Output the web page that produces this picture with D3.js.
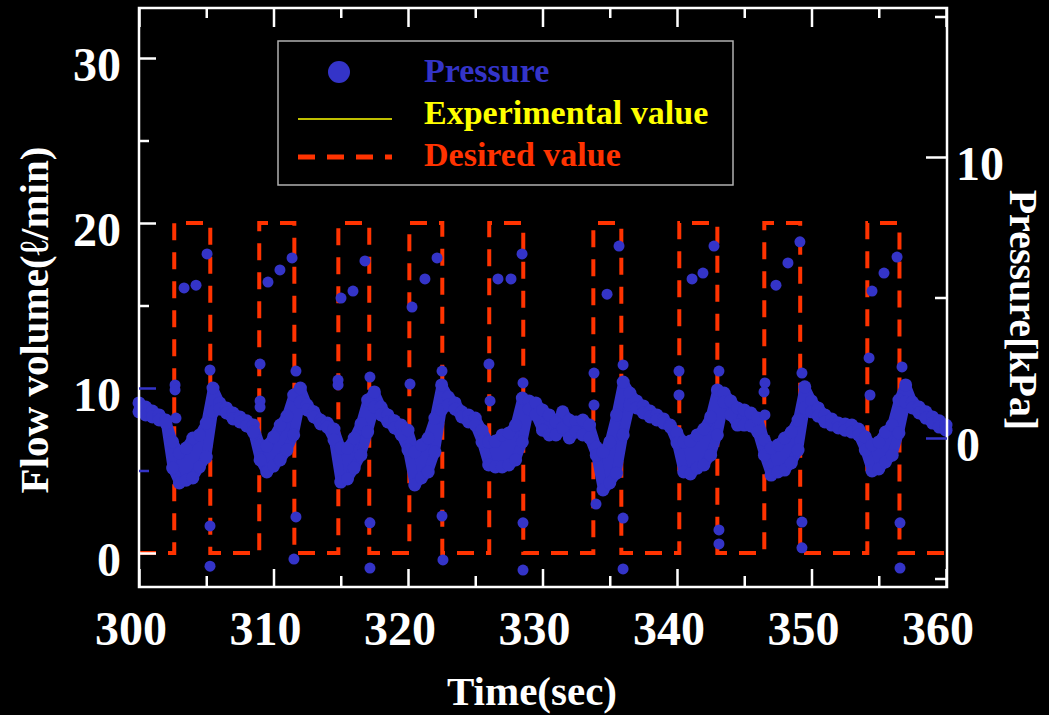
<!DOCTYPE html>
<html>
<head>
<meta charset="utf-8">
<script src="https://cdn.jsdelivr.net/npm/d3@7"></script>
<style>
  body { margin: 0; background: #000; }
  text { font-family: "Liberation Serif", "Times New Roman", serif; font-weight: bold; }
</style>
</head>
<body>
<svg width="1049" height="715"></svg>
<script>
// desired flow (l/min): square wave switching times, sec
var riseTimes = [302.62, 308.94, 314.82, 320.10, 326.04, 333.78, 340.17, 346.49, 354.15];
var fallTimes = [305.30, 311.55, 317.12, 322.55, 328.57, 335.86, 343.00, 349.16, 356.54];
var desiredLow = 0, desiredHigh = 20;

// pressure trace (kPa), read every 0.5 s from 300 s: upper and lower edge of the dense dot band
var bandStart = 300, bandStep = 0.5;
var bandTop = [
  1.25, 1.10, 0.96, 0.82, 0.64, -0.14, -0.53, -0.36, 0.00, 0.11,
  0.53, 1.78, 1.25, 1.07, 0.89, 0.75, 0.61, 0.46, -0.25, -0.28,
  0.04, 0.46, 0.78, 1.53, 1.78, 1.17, 0.93, 0.64, 0.53, 0.32,
  -0.36, -0.36, 0.00, 0.50, 1.35, 1.64, 1.10, 0.82, 0.61, 0.46,
  0.28, -0.50, -0.25, 0.00, 0.71, 1.89, 1.46, 1.25, 0.93, 0.82,
  0.71, 0.28, -0.14, -0.11, 0.11, 0.18, 0.46, 1.42, 1.32, 1.25,
  1.00, 0.82, 0.57, 0.93, 0.64, 0.57, 0.64, 0.46, -0.32, -0.50,
  -0.14, 0.82, 1.99, 1.60, 1.32, 1.14, 0.96, 0.82, 0.68, 0.46,
  0.18, -0.14, -0.11, 0.11, 0.32, 0.75, 1.71, 1.60, 1.32, 1.07,
  1.00, 0.89, 0.71, -0.07, -0.36, -0.25, 0.00, 0.21, 0.64, 1.82,
  1.32, 1.07, 0.82, 0.68, 0.53, 0.50, 0.46, 0.32, 0.04, -0.25,
  -0.14, 0.21, 0.46, 1.35, 1.89, 1.28, 1.10, 0.93, 0.75, 0.61,
  0.46];
var bandBottom = [
  0.93, 0.82, 0.75, 0.64, 0.53, -1.07, -1.60, -1.50, -1.42, -1.03,
  -0.68, 0.93, 1.03, 0.89, 0.68, 0.57, 0.43, 0.21, -0.78, -1.21,
  -1.00, -0.78, -0.43, 0.11, 1.28, 1.00, 0.75, 0.50, 0.39, -0.07,
  -1.57, -1.46, -1.07, -0.61, 0.21, 1.10, 0.82, 0.57, 0.36, 0.11,
  -0.43, -1.67, -1.42, -1.21, -0.50, 1.00, 1.17, 1.03, 0.75, 0.57,
  0.46, -0.14, -0.96, -1.03, -1.03, -0.96, -0.78, -0.14, 1.03, 0.82,
  0.28, 0.11, 0.11, 0.36, 0.00, 0.21, 0.11, 0.00, -0.61, -1.85,
  -1.60, -1.25, 0.11, 1.17, 1.07, 0.89, 0.75, 0.64, 0.53, 0.39,
  -0.18, -1.21, -1.28, -1.07, -0.96, -0.61, 0.11, 1.28, 0.82, 0.46,
  0.46, 0.43, 0.21, -0.61, -1.32, -1.21, -1.14, -0.89, -0.43, 1.07,
  0.93, 0.78, 0.57, 0.46, 0.36, 0.28, 0.21, 0.11, -0.43, -1.17,
  -1.10, -0.85, -0.61, 0.18, 1.28, 1.07, 0.89, 0.71, 0.53, 0.39,
  0.28];

// scattered pressure dots around each pulse
var sparseTime = [
  302.68, 302.68, 302.75, 303.35, 304.24, 305.06, 305.28, 305.28, 305.28,
  309.00, 309.00, 309.00, 309.59, 310.48, 311.38, 311.67, 311.67, 311.52,
  314.80, 314.80, 315.02, 315.91, 316.80, 317.17, 317.17, 317.17,
  320.15, 320.30, 321.26, 322.16, 322.53, 322.53, 322.60,
  326.02, 326.10, 326.69, 327.66, 328.48, 328.55, 328.55, 328.55,
  333.83, 333.83, 333.98, 334.80, 335.69, 335.99, 335.99, 335.99,
  340.15, 340.15, 341.12, 341.93, 342.75, 343.12, 343.12, 343.12,
  346.54, 346.47, 346.54, 347.36, 348.25, 349.14, 349.29, 349.29, 349.29,
  354.28, 354.35, 354.50, 355.39, 356.36, 356.73, 356.58, 356.58];
var sparseKPa = [
  1.89, 1.71, 0.71, 5.34, 5.44, 6.55, 2.42, -3.13, -4.56,
  2.63, 1.32, 1.10, 5.55, 5.98, 6.41, 2.38, -2.81, -4.31,
  2.06, 1.89, 4.98, 5.23, 6.30, 2.17, -3.02, -4.63,
  1.92, 4.66, 5.66, 6.41, 2.38, -2.78, -4.34,
  2.63, 1.32, 5.66, 5.66, 6.55, 1.96, -3.02, -4.70,
  2.31, 1.17, -2.35, 5.12, 6.83, 2.60, -2.85, -4.66,
  2.38, 1.53, 5.66, 5.87, 6.83, 2.38, -3.27, -3.77,
  1.96, 1.64, 0.82, 5.44, 6.23, 6.98, 2.31, -2.99, -3.91,
  2.85, 1.53, 5.23, 5.87, 6.44, 2.53, -3.02, -4.63];

var xMajor = [300, 310, 320, 330, 340, 350, 360];
var xMinor = [305, 315, 325, 335, 345, 355];
var flowMajor = [0, 10, 20, 30];
var flowMinor = [5, 15, 25];
var presMajor = [0, 10];
var presMinor = [-5, 5, 15];

var legendItems = ["Pressure", "Experimental value", "Desired value"];

var blue = "#3434c8", red = "#ff3300", yellow = "#ffff00";
var svg = d3.select("svg");

var plotL = 139, plotR = 947, plotT = 8, plotB = 587;
var x = d3.scaleLinear().domain([300, 360]).range([139, 946]);
var yFlow = d3.scaleLinear().domain([0, 30]).range([553, 58]);
var yPres = d3.scaleLinear().domain([0, 10]).range([438, 157]);

// ---- desired value (dashed square wave)
var desired = [[300, desiredLow]];
riseTimes.forEach(function(t, i) {
  desired.push([t, desiredLow], [t, desiredHigh], [fallTimes[i], desiredHigh], [fallTimes[i], desiredLow]);
});
desired.push([360, desiredLow]);

svg.append("path")
  .datum(desired)
  .attr("d", d3.line().x(function(d) { return x(d[0]); }).y(function(d) { return yFlow(d[1]); }))
  .style("fill", "none")
  .style("stroke", red)
  .style("stroke-width", 4)
  .style("stroke-dasharray", "17,12");

// ---- pressure band
var band = bandTop.map(function(v, i) {
  return { t: bandStart + i * bandStep, hi: v, lo: bandBottom[i] };
});

svg.append("path")
  .datum(band)
  .attr("d", d3.area()
    .x(function(d) { return x(d.t); })
    .y0(function(d) { return yPres(d.lo); })
    .y1(function(d) { return yPres(d.hi); }))
  .style("fill", blue)
  .style("stroke", blue)
  .style("stroke-width", 10)
  .style("stroke-linejoin", "round");

var bandDots = [];
band.forEach(function(d) {
  bandDots.push([d.t, d.hi], [d.t, d.lo]);
});
svg.append("g").selectAll("circle").data(bandDots)
  .enter().append("circle")
  .attr("cx", function(d) { return x(d[0]); })
  .attr("cy", function(d) { return yPres(d[1]); })
  .attr("r", 6.5)
  .style("fill", blue);

svg.append("g").selectAll("circle").data(sparseTime)
  .enter().append("circle")
  .attr("cx", function(d) { return x(d); })
  .attr("cy", function(d, i) { return yPres(sparseKPa[i]); })
  .attr("r", 5.5)
  .style("fill", blue);

// ---- frame
svg.append("rect")
  .attr("x", plotL).attr("y", plotT)
  .attr("width", plotR - plotL).attr("height", plotB - plotT)
  .style("fill", "none").style("stroke", "#fff").style("stroke-width", 2.5);

function ticks(g) {
  g.select(".domain").remove();
  g.selectAll("line").style("stroke", "#fff").style("stroke-width", 2.5);
}

svg.append("g").attr("transform", "translate(0," + plotB + ")")
  .call(d3.axisBottom(x).tickValues(xMajor).tickSize(-18).tickFormat("")).call(ticks);
svg.append("g").attr("transform", "translate(0," + plotB + ")")
  .call(d3.axisBottom(x).tickValues(xMinor).tickSize(-11).tickFormat("")).call(ticks);
svg.append("g").attr("transform", "translate(0," + plotT + ")")
  .call(d3.axisTop(x).tickValues(xMajor).tickSize(-19).tickFormat("")).call(ticks);
svg.append("g").attr("transform", "translate(0," + plotT + ")")
  .call(d3.axisTop(x).tickValues(xMinor).tickSize(-10).tickFormat("")).call(ticks);

var gl = svg.append("g").attr("transform", "translate(" + plotL + ",0)")
  .call(d3.axisLeft(yFlow).tickValues(flowMajor).tickSize(-17).tickFormat("")).call(ticks);
gl.selectAll(".tick").filter(function(d) { return d === 10; }).select("line").style("stroke", blue);
var gl2 = svg.append("g").attr("transform", "translate(" + plotL + ",0)")
  .call(d3.axisLeft(yFlow).tickValues(flowMinor).tickSize(-10).tickFormat("")).call(ticks);
gl2.selectAll(".tick").filter(function(d) { return d === 5; }).select("line").style("stroke", blue);

var gr = svg.append("g").attr("transform", "translate(" + plotR + ",0)")
  .call(d3.axisRight(yPres).tickValues(presMajor).tickSize(-21).tickFormat("")).call(ticks);
gr.selectAll(".tick").filter(function(d) { return d === 0; }).select("line").style("stroke", blue);
svg.append("g").attr("transform", "translate(" + plotR + ",0)")
  .call(d3.axisRight(yPres).tickValues(presMinor).tickSize(-12).tickFormat("")).call(ticks);

// ---- tick labels
svg.append("g").selectAll("text").data(xMajor)
  .enter().append("text")
  .attr("x", function(d) { return x(d) - 8; })
  .attr("y", 645)
  .style("fill", "#fff").style("font-size", "48px").style("text-anchor", "middle")
  .text(function(d) { return d; });

svg.append("g").selectAll("text").data(flowMajor)
  .enter().append("text")
  .attr("x", 121)
  .attr("y", function(d) { return yFlow(d) + 23; })
  .style("fill", "#fff").style("font-size", "48px").style("text-anchor", "end")
  .text(function(d) { return d; });

svg.append("g").selectAll("text").data(presMajor)
  .enter().append("text")
  .attr("x", 956)
  .attr("y", function(d) { return yPres(d) + 23; })
  .style("fill", "#fff").style("font-size", "48px").style("text-anchor", "start")
  .text(function(d) { return d; });

// ---- axis titles
svg.append("text")
  .attr("x", 532).attr("y", 705)
  .style("fill", "#fff").style("font-size", "41px").style("text-anchor", "middle")
  .text("Time(sec)");

svg.append("text")
  .attr("transform", "translate(48,320) rotate(-90)")
  .style("fill", "#fff").style("font-size", "41px").style("text-anchor", "middle")
  .text("Flow volume(\u2113/min)");

svg.append("text")
  .attr("transform", "translate(1010,310) rotate(90)")
  .style("fill", "#fff").style("font-size", "40px").style("text-anchor", "middle")
  .text("Pressure[kPa]");

// ---- legend
var lg = svg.append("g");
lg.append("rect")
  .attr("x", 278).attr("y", 41).attr("width", 455).attr("height", 144)
  .style("fill", "#000").style("stroke", "#b0b0b0").style("stroke-width", 1.5);
lg.append("circle").attr("cx", 339).attr("cy", 72).attr("r", 11).style("fill", blue);
lg.append("line").attr("x1", 298).attr("x2", 392).attr("y1", 119).attr("y2", 119)
  .style("stroke", yellow).style("stroke-width", 1.5);
lg.append("line").attr("x1", 298).attr("x2", 392).attr("y1", 157).attr("y2", 157)
  .style("stroke", red).style("stroke-width", 5).style("stroke-dasharray", "17,12");

var legendColors = [blue, yellow, red];
lg.selectAll("text.item").data(legendItems)
  .enter().append("text")
  .attr("class", "item")
  .attr("x", 424)
  .attr("y", function(d, i) { return 82 + i * 42; })
  .style("fill", function(d, i) { return legendColors[i]; })
  .style("font-size", "34px")
  .text(function(d) { return d; });
</script>
</body>
</html>
